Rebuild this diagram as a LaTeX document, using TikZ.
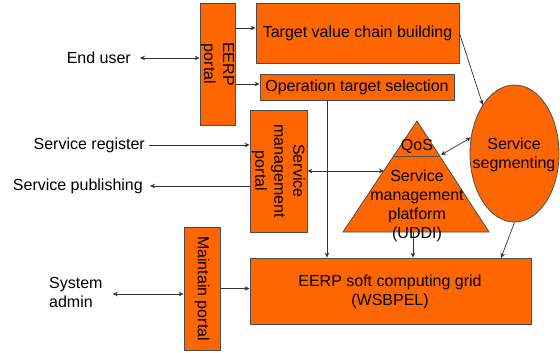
\documentclass[tikz,border=0pt]{standalone}
\usepackage{fontspec}
\setmainfont{Liberation Sans}
\usetikzlibrary{shapes.geometric,arrows.meta,calc}
\definecolor{orng}{HTML}{FF6600}
\definecolor{edge}{HTML}{4D4D4D}
\definecolor{linec}{HTML}{333333}
\begin{document}
\begin{tikzpicture}[x=1pt,y=-1pt,
  font=\fontsize{16}{19}\selectfont,
  box/.style={draw=edge,fill=orng,line width=0.8pt,inner sep=0pt},
  lbl/.style={inner sep=0pt,align=center,text=black},
  conn/.style={draw=linec,line width=0.7pt},
  >={Stealth[length=5pt,width=4.5pt]}]
\useasboundingbox (0,0) rectangle (560,353);

% portals and boxes
\node[box,minimum width=35pt,minimum height=122pt] (eerp) at (217.5,64) {};
\node[lbl,rotate=-90] at (eerp) {EERP\\portal};
\node[box,minimum width=203pt,minimum height=60pt] (target) at (357.5,33) {};
\node[lbl] at (target) {Target value chain building};
\node[box,minimum width=194pt,minimum height=26pt] (op) at (357,87) {};
\node[lbl] at (op) {Operation target selection};
\node[box,minimum width=57pt,minimum height=122pt] (smp) at (278.5,171) {};
\node[lbl,rotate=-90] at (smp) {Service\\management\\portal};
\node[box,minimum width=281pt,minimum height=66pt] (grid) at (390.5,291) {};
\node[lbl] at (390,292) {EERP soft computing grid\\(WSBPEL)};
\node[box,minimum width=36pt,minimum height=123pt] (maint) at (202,288.5) {};
\node[lbl,rotate=-90] at (maint) {Maintain portal};

% service management platform (triangle with QoS cap)
\coordinate (apex) at (417,121);
\coordinate (bl) at (343,232);
\coordinate (br) at (489,232);
\draw[box] (apex) -- (br) -- (bl) -- cycle;
\coordinate (qosl) at (394,156);
\coordinate (qosr) at (440,156);
\draw[draw=edge,line width=0.8pt] (qosl) -- (qosr);
\node[lbl] (qos) at (417,146) {QoS};

% service segmenting
\node[box,ellipse,minimum width=89pt,minimum height=137pt] (seg) at (514.5,153.5) {};
\node[lbl] at (514,155) {Service\\segmenting};

% outside actors
\node[lbl,anchor=east] (eu) at (131,58) {End user};
\node[lbl,anchor=east] (sreg) at (145,145) {Service register};
\node[lbl,anchor=east] (spub) at (143,186) {Service publishing};
\node[lbl,align=left,anchor=west] (sadm) at (49,292) {System\\admin};

% connector end points
\coordinate (eerpA) at ($(eerp.east)+(0,-36)$);
\coordinate (eerpB) at ($(eerp.east)+(0,20)$);
\coordinate (smpL) at ($(smp.west)+(0,-26)$);
\coordinate (smpP) at ($(smp.west)+(0,15)$);
\coordinate (trileft) at (384,171);
\coordinate (opdown) at (327,100);
\coordinate (tribase) at (413,232);
\coordinate (qosside) at (441,155);
\coordinate (gridseg) at (501,258);
\coordinate (maintin) at ($(maint.west)+(0,5.5)$);

\draw[conn,<->] ([xshift=9pt]eu.east) -- (eerp.west |- eu.east);
\draw[conn,->] (eerpA) -- (target.west |- eerpA);
\draw[conn,->] (eerpB) -- (op.west |- eerpB);
\draw[conn,->] ([xshift=4pt]sreg.east) -- (smpL);
\draw[conn,->] (smpP) -- ([xshift=7pt]spub.east);
\draw[conn,<->] (smp.east) -- (trileft);
\draw[conn,->] (opdown) -- (opdown |- grid.north);
\draw[conn,->] (tribase) -- (tribase |- grid.north);
\draw[conn,->] (target.east) -- (seg.north west);
\draw[conn,<->] (qosside) -- (seg.160);
\draw[conn,->] (seg.south) -- (gridseg);
\draw[conn,->] (maint.east) -- (grid.west |- maint.east);
\draw[conn,<->] ([xshift=10pt]sadm.east |- maintin) -- (maintin);

% platform label, set over the triangle and its base
\node[lbl] (smplat) at (417,205.5) {Service\\management\\platform\\(UDDI)};
\end{tikzpicture}
\end{document}
